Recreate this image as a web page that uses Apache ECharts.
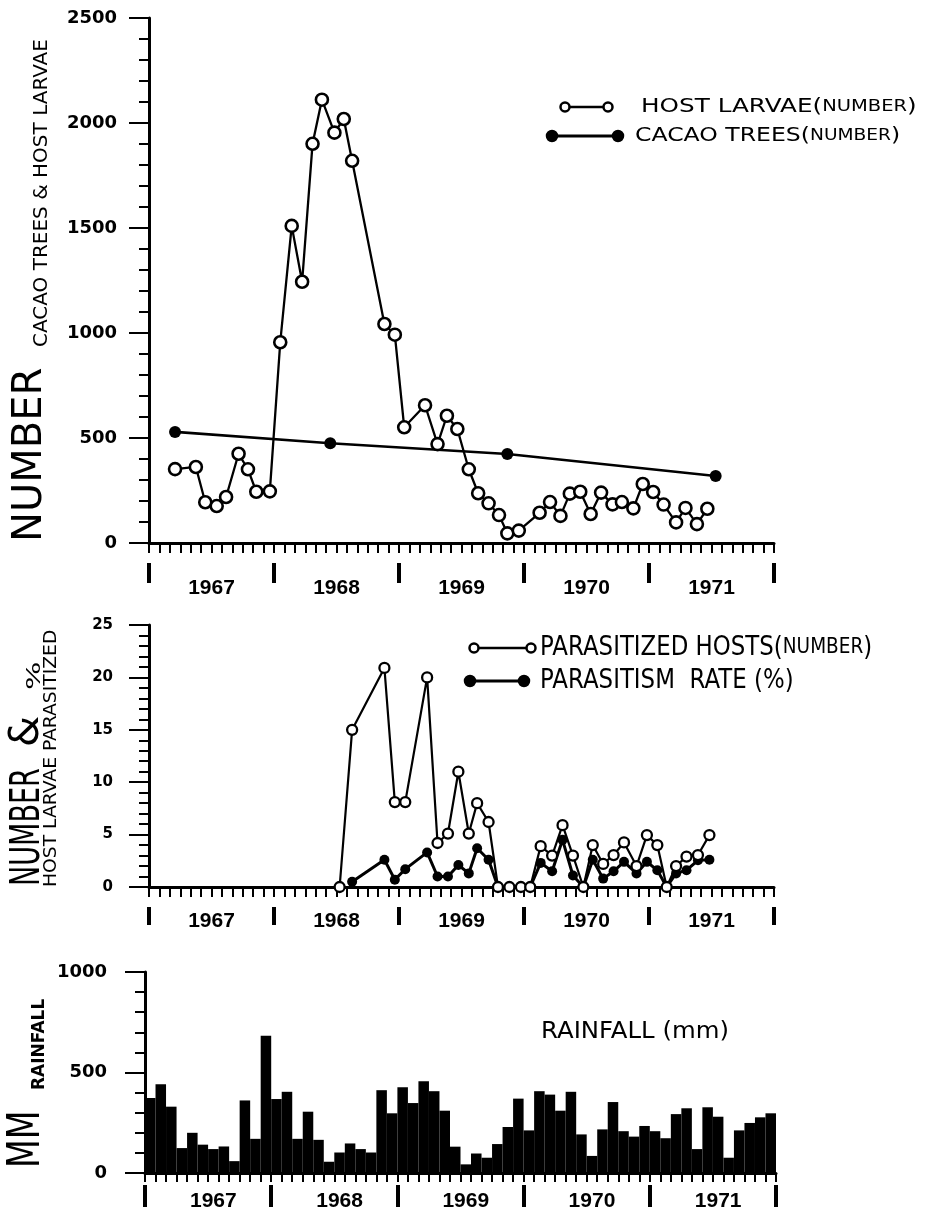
<!DOCTYPE html>
<html>
<head>
<meta charset="utf-8">
<script src="https://cdn.jsdelivr.net/npm/echarts@6/dist/echarts.min.js"></script>
<style>
  html, body { margin: 0; background: #fff; }
  #chart { width: 928px; height: 1218px; }
</style>
</head>
<body>
<div id="chart"></div>
<script>
// months are counted from the start of 1967 (0 = Jan 1967, 60 = end of 1971)
const years = ['1967', '1968', '1969', '1970', '1971'];
const monthNames = ['Jan','Feb','Mar','Apr','May','Jun','Jul','Aug','Sep','Oct','Nov','Dec'];

const larvaeMonths = [2.5, 4.5, 5.4, 6.5, 7.4, 8.6, 9.5, 10.3, 11.6, 12.6, 13.7, 14.7, 15.7, 16.6, 17.8, 18.7, 19.5,
  22.6, 23.6, 24.5, 26.5, 27.7, 28.6, 29.6, 30.7, 31.6, 32.6, 33.6, 34.4, 35.5, 37.5, 38.5, 39.5, 40.4, 41.4,
  42.4, 43.4, 44.5, 45.4, 46.5, 47.4, 48.4, 49.4, 50.6, 51.5, 52.6, 53.6];
const larvaeCount = [352, 362, 194, 176, 219, 425, 351, 244, 246, 956, 1510, 1244, 1901, 2111, 1954, 2019, 1820,
  1043, 992, 551, 656, 471, 606, 543, 351, 237, 189, 133, 46, 59, 144, 195, 129, 235, 244,
  138, 240, 184, 195, 165, 281, 243, 183, 98, 167, 90, 163];

const cacaoMonths = [2.5, 17.4, 34.4, 54.4];
const cacaoCount = [529, 475, 424, 319];

const parasMonths = [18.3, 19.5, 22.6, 23.6, 24.6, 26.7, 27.7, 28.7, 29.7, 30.7, 31.5, 32.6, 33.5, 34.6, 35.7, 36.6,
  37.6, 38.7, 39.7, 40.7, 41.7, 42.6, 43.6, 44.6, 45.6, 46.8, 47.8, 48.8, 49.7, 50.6, 51.6, 52.7, 53.8];
const parasHosts = [0, 15, 20.9, 8.1, 8.1, 20, 4.2, 5.1, 11, 5.1, 8, 6.2, 0, 0, 0, 0,
  3.9, 3.0, 5.9, 3.0, 0, 4.0, 2.2, 3.05, 4.25, 2.0, 4.95, 4.0, 0, 2.0, 2.9, 3.05, 4.95];
const parasRate = [null, 0.5, 2.6, 0.7, 1.7, 3.3, 1.0, 1.0, 2.1, 1.3, 3.7, 2.6, 0, 0, 0, 0,
  2.3, 1.5, 4.5, 1.1, 0, 2.6, 0.8, 1.5, 2.4, 1.3, 2.4, 1.6, 0, 1.3, 1.6, 2.55, 2.6];

const rainMonths = years.flatMap(y => monthNames.map(m => m + ' ' + y));
const rainfall = [373, 441, 330, 124, 200, 141, 119, 132, 59, 361, 170, 683,
  368, 404, 170, 305, 165, 56, 102, 147, 119, 102, 412, 297,
  427, 348, 456, 407, 310, 131, 43, 97, 76, 144, 229, 370,
  212, 407, 390, 310, 404, 192, 85, 217, 353, 208, 181, 234,
  208, 173, 293, 322, 119, 327, 280, 76, 212, 249, 277, 297];

const BLACK = '#000';
const FONT = 'DejaVu Sans';
const yearFont = 'Liberation Sans';

function monthAxis(grid, margin) {
  return {
    type: 'value', gridIndex: grid, position: 'bottom', min: 0, max: 60, interval: 1,
    axisLine: { show: true, onZero: false, lineStyle: { color: BLACK, width: 3 } },
    axisTick: { show: true, length: 10, lineStyle: { color: BLACK, width: 2 } },
    splitLine: { show: false },
    axisLabel: {
      margin, color: BLACK, fontFamily: yearFont, fontWeight: 'bold', fontSize: 21,
      formatter: v => (v % 12 === 6 ? years[(v - 6) / 12] : '')
    }
  };
}

function dividerAxis(grid, offset, len) {
  return {
    type: 'value', gridIndex: grid, position: 'bottom', offset, min: 0, max: 60, interval: 12,
    axisLine: { show: false, onZero: false },
    axisTick: { show: true, length: len, lineStyle: { color: BLACK, width: 4 } },
    axisLabel: { show: false },
    splitLine: { show: false }
  };
}

function countAxis(grid, max, interval, margin, fontSize) {
  return {
    type: 'value', gridIndex: grid, min: 0, max, interval,
    axisLine: { show: true, lineStyle: { color: BLACK, width: 3 } },
    axisTick: { show: true, length: 20, lineStyle: { color: BLACK, width: 2 } },
    minorTick: { show: true, splitNumber: 5, length: 10, lineStyle: { color: BLACK, width: 2 } },
    splitLine: { show: false },
    minorSplitLine: { show: false },
    axisLabel: {
      margin, color: BLACK, fontFamily: FONT, fontWeight: 'bold', fontSize,
      formatter: v => String(v)
    }
  };
}

// rotated axis titles, reading bottom to top
function vText(x, y, text, size, scaleX, weight) {
  return {
    type: 'text', x, y, rotation: Math.PI / 2, scaleX: scaleX || 1,
    style: {
      text, fill: BLACK, fontFamily: FONT, fontSize: size, fontWeight: weight || 'normal',
      align: 'left', textAlign: 'left', verticalAlign: 'middle', textVerticalAlign: 'middle'
    }
  };
}

function legendKey(x1, x2, y, open) {
  const dot = cx => ({
    type: 'circle', shape: { cx, cy: y, r: open ? 4.5 : 5 },
    style: { fill: open ? '#fff' : BLACK, stroke: BLACK, lineWidth: 2.5 }
  });
  return [
    { type: 'line', shape: { x1, y1: y, x2, y2: y }, style: { stroke: BLACK, lineWidth: open ? 2.5 : 3 } },
    dot(x1), dot(x2)
  ];
}

function legendText(x, y, text, big, small, scaleX) {
  const tok = size => ({ fontSize: size, fontFamily: FONT, color: BLACK });
  return {
    type: 'text', x, y, scaleX,
    style: {
      text, fill: BLACK, fontFamily: FONT, fontSize: big,
      rich: { a: tok(big), b: tok(small) },
      align: 'left', textAlign: 'left', verticalAlign: 'middle', textVerticalAlign: 'middle'
    }
  };
}

const chart = echarts.init(document.getElementById('chart'));

const option = {
  animation: false,
  backgroundColor: '#fff',
  grid: [
    { left: 149, top: 18, width: 625, height: 525 },
    { left: 149, top: 625, width: 625, height: 262 },
    { left: 145, top: 972, width: 631, height: 201 }
  ],
  xAxis: [
    monthAxis(0, 35),
    dividerAxis(0, 20, 20),
    monthAxis(1, 24),
    dividerAxis(1, 20, 18),
    {
      type: 'category', gridIndex: 2, position: 'bottom', data: rainMonths, boundaryGap: true,
      axisLine: { show: true, onZero: false, lineStyle: { color: BLACK, width: 3 } },
      axisTick: { show: true, interval: 0, length: 9, lineStyle: { color: BLACK, width: 2 } },
      axisLabel: {
        interval: 0, margin: 18, color: BLACK, fontFamily: yearFont, fontWeight: 'bold', fontSize: 21,
        formatter: (v, i) => (i % 12 === 6 ? years[(i - 6) / 12] : '')
      },
      splitLine: { show: false }
    },
    {
      type: 'value', gridIndex: 2, position: 'bottom', offset: 12, min: 0, max: 60, interval: 12,
      axisLine: { show: false, onZero: false },
      axisTick: { show: true, length: 22, lineStyle: { color: BLACK, width: 4 } },
      axisLabel: { show: false },
      splitLine: { show: false }
    }
  ],
  yAxis: [
    countAxis(0, 2500, 500, 32, 18),
    countAxis(1, 25, 5, 36, 15),
    countAxis(2, 1000, 500, 38, 18)
  ],
  series: [
    {
      name: 'CACAO TREES', type: 'line', xAxisIndex: 0, yAxisIndex: 0,
      data: cacaoMonths.map((m, i) => [m, cacaoCount[i]]),
      symbol: 'circle', symbolSize: 12, showAllSymbol: true,
      lineStyle: { color: BLACK, width: 2.6 }, itemStyle: { color: BLACK }
    },
    {
      name: 'HOST LARVAE', type: 'line', xAxisIndex: 0, yAxisIndex: 0,
      data: larvaeMonths.map((m, i) => [m, larvaeCount[i]]),
      symbol: 'circle', symbolSize: 12, showAllSymbol: true,
      lineStyle: { color: BLACK, width: 2.3 },
      itemStyle: { color: '#fff', borderColor: BLACK, borderWidth: 2.6 }
    },
    {
      name: 'PARASITISM RATE', type: 'line', xAxisIndex: 2, yAxisIndex: 1,
      data: parasMonths.map((m, i) => [m, parasRate[i]]),
      symbol: 'circle', symbolSize: 10, showAllSymbol: true,
      lineStyle: { color: BLACK, width: 3 }, itemStyle: { color: BLACK }
    },
    {
      name: 'PARASITIZED HOSTS', type: 'line', xAxisIndex: 2, yAxisIndex: 1,
      data: parasMonths.map((m, i) => [m, parasHosts[i]]),
      symbol: 'circle', symbolSize: 10, showAllSymbol: true,
      lineStyle: { color: BLACK, width: 2.2 },
      itemStyle: { color: '#fff', borderColor: BLACK, borderWidth: 2.3 }
    },
    {
      name: 'RAINFALL', type: 'bar', xAxisIndex: 4, yAxisIndex: 2,
      data: rainfall, barCategoryGap: '0%', itemStyle: { color: BLACK }
    }
  ],
  graphic: [
    // axis titles
    vText(31, 542, 'NUMBER', 40),
    vText(42, 347, 'CACAO TREES & HOST LARVAE', 20),
    vText(28, 886, 'NUMBER', 41, 0.66),
    vText(28, 747, '&', 40),
    vText(35, 690, '%', 20, 1.5),
    vText(51, 887, 'HOST LARVAE PARASITIZED', 18, 1.04),
    vText(28, 1168, 'MM', 44, 0.76),
    vText(40, 1090, 'RAINFALL', 17, 1, 'bold'),
    // legends
    ...legendKey(565, 608, 107, true),
    legendText(641, 107, '{a|HOST LARVAE(}{b|NUMBER}{a|)}', 19, 15, 1.3),
    ...legendKey(552, 618, 136, false),
    legendText(635, 136, '{a|CACAO TREES(}{b|NUMBER}{a|)}', 19, 15, 1.24),
    ...legendKey(474, 531, 648, true),
    legendText(540, 648, '{a|PARASITIZED HOSTS(}{b|NUMBER}{a|)}', 26, 21, 0.88),
    ...legendKey(470, 524, 681, false),
    legendText(540, 681, '{a|PARASITISM  RATE (%)}', 26, 21, 0.88),
    legendText(541, 1032, '{a|RAINFALL (mm)}', 23, 23, 1.06)
  ]
};

chart.setOption(option);
</script>
</body>
</html>
